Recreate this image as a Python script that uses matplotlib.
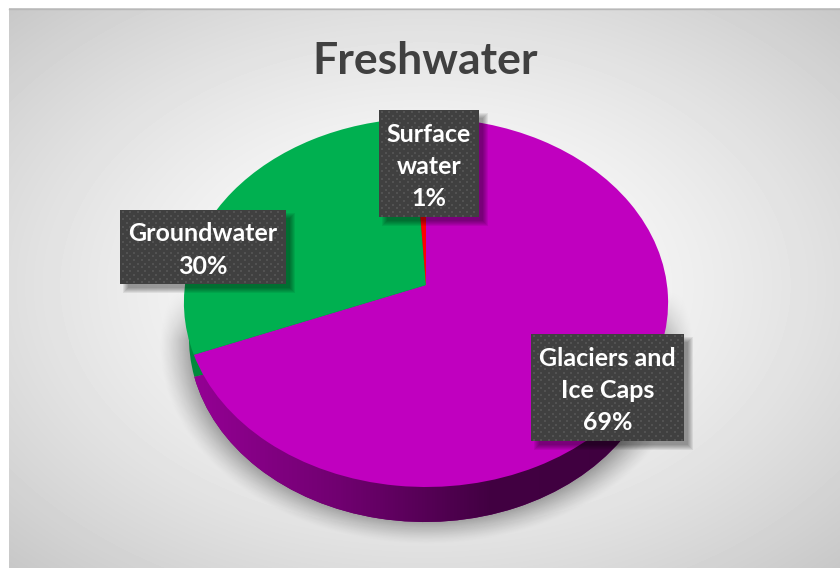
import numpy as np
import matplotlib
matplotlib.use('Agg')
import matplotlib.pyplot as plt
from matplotlib.patches import Rectangle
from matplotlib.transforms import Transform

title = 'Freshwater'
categories = ['Glaciers and\nIce Caps', 'Groundwater', 'Surface\nwater']
shares = [69, 30, 1]

top_colors = ['#c000bf', '#00b050', '#ff0000']
side_colors = ['#6a006a', '#008a3c', '#a00000']
# label boxes in pixels: left, top, right, bottom
boxes = [(531, 334, 684, 441), (120, 210, 286, 284), (379, 110, 479, 217)]

W, H = 840, 568
plt.rcParams['font.family'] = ['Lato', 'DejaVu Sans']


# tilted circle -> screen pixels, keeps the apex off the ellipse centre like a 3d pie
class Tilt(Transform):
    input_dims = 2
    output_dims = 2

    def __init__(self, cx, cy, rx, ry, k):
        super().__init__()
        self.cx, self.cy, self.rx, self.ry, self.k = cx, cy, rx, ry, k

    def transform_non_affine(self, xy):
        xy = np.asarray(xy, dtype=float)
        w = 1 + self.k * xy[:, 1]
        return np.column_stack([self.cx + self.rx * xy[:, 0] / w,
                                self.cy - self.ry * xy[:, 1] / w])


fig = plt.figure(figsize=(W / 100, H / 100), dpi=100, facecolor='white')
ax = fig.add_axes([0, 0, 1, 1])

# background
yy, xx = np.mgrid[8:H, 9:W]
f = np.sqrt(((xx - 425) / 416) ** 2 + ((yy - 285) / 277) ** 2) / np.sqrt(2)
bg = 255 - 55 * np.clip(f, 0, 1) ** 1.5
ax.imshow(bg, cmap='gray', vmin=0, vmax=255, extent=(9, W, H, 8), aspect='auto', zorder=0)
ax.plot([9, W], [8.5, 8.5], color='#b8b8b8', lw=1, zorder=1)

# pie shadow
sy, sx = np.mgrid[0:H, 0:W]
d = np.sqrt(((sx - 426) / 262) ** 2 + ((sy - 345) / 195) ** 2)
sa = np.clip((1.02 - d) / 0.16, 0, 1) ** 1.3 * 0.45 * np.clip((sy - 290) / 50, 0, 1)
shadow = np.zeros((H, W, 4))
shadow[..., 3] = sa
ax.imshow(shadow, extent=(0, W, H, 0), aspect='auto', zorder=2)

# side wall
low, _ = ax.pie(shares, colors=side_colors, startangle=86, counterclock=False, radius=1)
low_tf = Tilt(425, 320, 235, 182.8, 0.095)
for w in low:
    w.set_transform(low_tf + ax.transData)
    w.set_zorder(3)
grad = np.linspace(0, 1, 300)[None, :]
cm = matplotlib.colors.LinearSegmentedColormap.from_list('wall', ['#950095', '#700070', '#420042', '#3f003f'])
im = ax.imshow(grad, cmap=cm, extent=(190, 640, H, 300), aspect='auto', zorder=4)
im.set_clip_path(low[0])

# top face
top, _ = ax.pie(shares, colors=top_colors, startangle=90, counterclock=False, radius=1)
top_tf = Tilt(426, 285, 241, 182.8, 0.095)
for w in top:
    w.set_transform(top_tf + ax.transData)
    w.set_zorder(5)

# data labels
for name, share, (x0, y0, x1, y1) in zip(categories, shares, boxes):
    for g in range(6):
        ax.add_patch(Rectangle((x0 + 8 - g, y0 + 8 - g), x1 - x0 + 2 * g - 4, y1 - y0 + 2 * g - 4,
                               fc='black', ec='none', alpha=0.07, zorder=6))
    ax.add_patch(Rectangle((x0, y0), x1 - x0, y1 - y0, fc='#404040', ec='none', zorder=7))
    dots_x, dots_y = [], []
    for r, yd in enumerate(np.arange(y0 + 2, y1, 3.7)):
        for xd in np.arange(x0 + 3 + (r % 2) * 3.7, x1 - 1, 7.4):
            dots_x.append(xd)
            dots_y.append(yd)
    ax.scatter(dots_x, dots_y, s=2.2, marker='s', color='#525252', linewidths=0, zorder=8)
    ax.text((x0 + x1) / 2, (y0 + y1) / 2 + 3, f'{name}\n{share}%', color='white', fontsize=18,
            fontweight='bold', ha='center', va='center', ma='center', linespacing=1.5, zorder=9)

ax.text(425, 61, title, color='#404040', fontsize=32, fontweight='bold', ha='center', va='center', zorder=9)

ax.set_xlim(0, W)
ax.set_ylim(H, 0)
ax.set_aspect('auto')
ax.axis('off')
fig.savefig('out.png', dpi=100)
